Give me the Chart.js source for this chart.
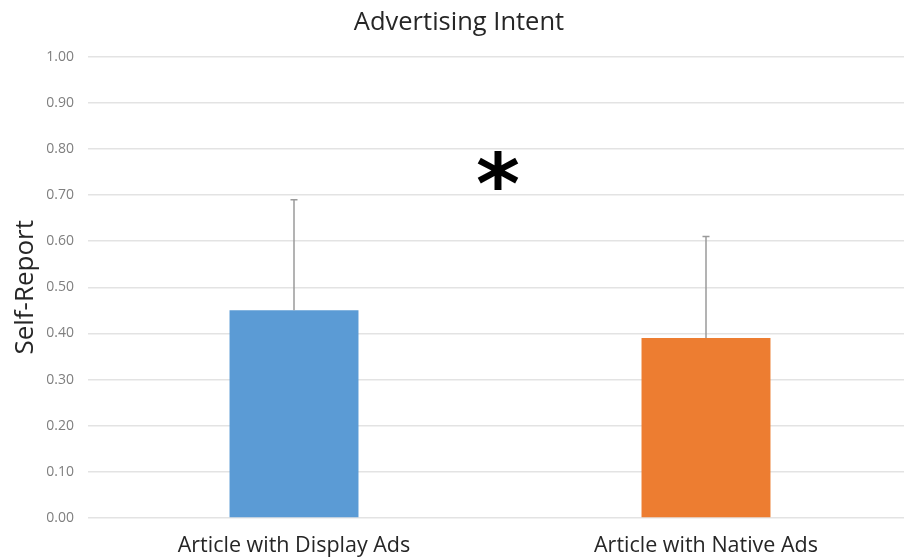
<!DOCTYPE html>
<html>
<head>
<meta charset="utf-8">
<script src="https://cdn.jsdelivr.net/npm/chart.js@4.4.1/dist/chart.umd.min.js"></script>
<style>
  html, body { margin: 0; padding: 0; background: #fff; overflow: hidden; }
  #wrap { position: relative; width: 912px; height: 558px; }
</style>
</head>
<body>
<div id="wrap"><canvas id="c"></canvas></div>
<script>
const categories = ['Article with Display Ads', 'Article with Native Ads'];
const means = [0.45, 0.39];
const upperError = [0.24, 0.22];
const barColors = ['#5B9BD5', '#ED7D31'];
const yTicks = [0, 0.1, 0.2, 0.3, 0.4, 0.5, 0.6, 0.7, 0.8, 0.9, 1.0];
const significanceMark = '*';
const significanceLevel = 0.75;

const FONT = '"Open Sans", Lato, sans-serif';

// Upward error whiskers with a short cap
const errorBars = {
  id: 'errorBars',
  afterDatasetsDraw(chart) {
    const { ctx, scales: { y } } = chart;
    const meta = chart.getDatasetMeta(0);
    ctx.save();
    ctx.strokeStyle = '#9a9a9a';
    ctx.lineWidth = 1.5;
    meta.data.forEach((bar, i) => {
      const x = bar.x;
      const top = y.getPixelForValue(means[i] + upperError[i]);
      const base = y.getPixelForValue(means[i]);
      ctx.beginPath();
      ctx.moveTo(x, base);
      ctx.lineTo(x, top);
      ctx.moveTo(x - 3.5, top);
      ctx.lineTo(x + 3.5, top);
      ctx.stroke();
    });
    ctx.restore();
  }
};

// Significance asterisk between the two groups
const significance = {
  id: 'significance',
  afterDatasetsDraw(chart) {
    const { ctx, scales: { x, y } } = chart;
    const cx = (x.getPixelForValue(0) + x.getPixelForValue(1)) / 2;
    const cy = y.getPixelForValue(significanceLevel);
    ctx.save();
    ctx.fillStyle = '#000';
    ctx.font = 'bold 84px "DejaVu Sans", sans-serif';
    ctx.textAlign = 'center';
    ctx.textBaseline = 'middle';
    ctx.fillText(significanceMark, cx - 2, cy + 19);
    ctx.restore();
  }
};

new Chart(document.getElementById('c'), {
  type: 'bar',
  data: {
    labels: categories,
    datasets: [{
      data: means,
      backgroundColor: barColors,
      borderWidth: 0,
      barPercentage: 0.313,
      categoryPercentage: 1.0
    }]
  },
  options: {
    responsive: true,
    maintainAspectRatio: false,
    animation: false,
    layout: { padding: { top: 4, right: 0, bottom: 0, left: 6 } },
    plugins: {
      legend: { display: false },
      tooltip: { enabled: false },
      title: {
        display: true,
        text: 'Advertising Intent',
        color: '#262626',
        font: { family: FONT, size: 25.5, weight: 'normal' },
        padding: { top: 3, bottom: 19 }
      }
    },
    scales: {
      x: {
        grid: { display: false, drawTicks: false },
        border: { display: false },
        afterFit(scale) { scale.height = 40; },
        ticks: {
          color: '#262626',
          font: { family: FONT, size: 21.5 },
          padding: 15
        }
      },
      y: {
        min: 0,
        max: 1,
        afterBuildTicks(scale) {
          scale.ticks = yTicks.map(v => ({ value: v }));
        },
        afterFit(scale) { scale.width = 82; },
        grid: { color: '#e3e3e3', lineWidth: 1.5, drawTicks: false },
        border: { display: false },
        ticks: {
          color: '#7f7f7f',
          font: { family: FONT, size: 14 },
          padding: 14,
          callback: v => v.toFixed(2)
        },
        title: {
          display: true,
          text: 'Self-Report',
          color: '#262626',
          font: { family: FONT, size: 26 },
          padding: { bottom: 0 }
        }
      }
    }
  },
  plugins: [errorBars, significance]
});
</script>
</body>
</html>
